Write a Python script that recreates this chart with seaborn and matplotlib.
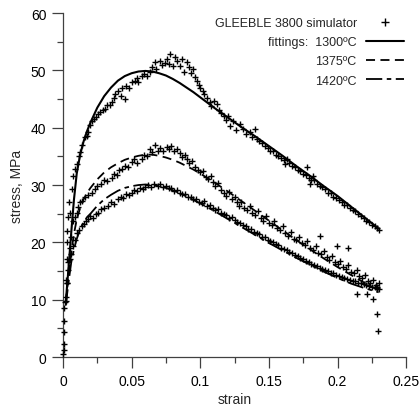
import matplotlib
matplotlib.use('Agg')
import matplotlib.pyplot as plt
import seaborn as sns
import pandas as pd
from matplotlib.lines import Line2D
from matplotlib.ticker import MultipleLocator, FuncFormatter

sns.set_style('ticks')
plt.rcParams['font.family'] = ['Liberation Sans', 'DejaVu Sans']

# ---------------- data ----------------
# GLEEBLE 3800 measured points (strain, stress MPa)
gleeble_1300 = [
    (0.0, 0.5), (0.0005, 1.3), (0.001, 2.3), (0.0005, 4.4), (0.0008, 6.3), (0.0015, 9.6),
    (0.002, 13.5), (0.0027, 17.1), (0.003, 20.0), (0.0027, 22.0), (0.0039, 24.5), (0.0045, 27.0),
    (0.0051, 25.2), (0.0063, 29.3), (0.0075, 31.5), (0.009, 32.8), (0.010, 33.7), (0.0115, 35.0),
    (0.0124, 35.7), (0.014, 37.0), (0.016, 38.3), (0.0175, 38.6), (0.0185, 39.2), (0.020, 40.5),
    (0.021, 41.2), (0.0225, 41.5), (0.024, 41.9), (0.0258, 42.4), (0.027, 42.8), (0.029, 43.0),
    (0.0306, 43.3), (0.032, 43.9), (0.034, 44.0), (0.0355, 44.4), (0.037, 45.1), (0.038, 45.8),
    (0.0403, 46.4), (0.042, 45.6), (0.043, 46.9), (0.045, 45.0), (0.046, 47.3), (0.048, 47.0),
    (0.050, 47.9), (0.0525, 48.2), (0.054, 48.6), (0.055, 48.0), (0.0573, 49.1), (0.059, 49.3),
    (0.061, 49.0), (0.0634, 49.7), (0.065, 50.6), (0.067, 51.4), (0.068, 50.2), (0.0707, 51.7),
    (0.072, 50.9), (0.074, 51.3), (0.0755, 52.0), (0.077, 51.1), (0.078, 52.9), (0.080, 50.7),
    (0.0815, 52.3), (0.083, 51.6), (0.0853, 50.8), (0.087, 51.9), (0.088, 49.8), (0.090, 51.4),
    (0.0915, 50.5), (0.093, 49.6), (0.095, 50.2), (0.0965, 48.9), (0.0975, 48.2), (0.099, 47.5),
    (0.100, 46.9), (0.102, 46.4), (0.103, 45.9), (0.105, 45.2), (0.107, 44.4), (0.108, 43.8),
    (0.110, 44.6), (0.112, 44.1), (0.1135, 43.0), (0.115, 42.6), (0.117, 42.1), (0.119, 41.3),
    (0.120, 42.0), (0.1217, 40.3), (0.124, 41.1), (0.126, 39.6), (0.129, 40.6), (0.131, 39.8),
    (0.133, 38.9), (0.136, 39.2), (0.138, 38.4), (0.140, 39.8), (0.141, 38.0), (0.143, 37.6),
    (0.145, 37.3), (0.147, 36.8), (0.149, 36.5), (0.151, 36.0), (0.153, 35.9), (0.155, 35.2),
    (0.157, 35.1), (0.159, 34.8), (0.161, 34.3), (0.1618, 33.7), (0.163, 34.6), (0.165, 33.8),
    (0.167, 33.4), (0.169, 33.1), (0.171, 32.6), (0.173, 32.5), (0.175, 31.9), (0.1776, 33.1),
    (0.177, 31.7), (0.179, 31.3), (0.180, 30.2), (0.181, 30.9), (0.1824, 31.6), (0.183, 30.8),
    (0.185, 30.2), (0.187, 29.9), (0.189, 29.6), (0.191, 29.3), (0.193, 28.7), (0.195, 28.6),
    (0.197, 28.0), (0.199, 27.8), (0.201, 27.4), (0.203, 27.1), (0.205, 26.6), (0.207, 26.5),
    (0.209, 26.0), (0.211, 25.6), (0.213, 25.4), (0.215, 24.9), (0.217, 24.6), (0.219, 24.3),
    (0.221, 23.8), (0.223, 23.6), (0.225, 23.1), (0.227, 22.9), (0.229, 22.5), (0.230, 22.2),
]

gleeble_1375 = [
    (0.002, 9.8), (0.003, 13.0), (0.004, 16.5), (0.005, 19.0), (0.006, 21.0), (0.0075, 23.8),
    (0.009, 24.5), (0.010, 25.2), (0.011, 26.2), (0.0124, 27.0), (0.014, 27.3), (0.016, 27.9),
    (0.018, 28.2), (0.021, 28.7), (0.023, 29.3), (0.025, 29.8), (0.028, 30.2), (0.030, 30.9),
    (0.032, 30.7), (0.0355, 31.3), (0.037, 32.0), (0.039, 31.8), (0.041, 32.6), (0.0428, 32.8),
    (0.045, 33.3), (0.047, 33.1), (0.050, 34.0), (0.052, 34.6), (0.054, 33.9), (0.0574, 34.5),
    (0.059, 35.3), (0.061, 35.0), (0.0634, 36.3), (0.065, 35.7), (0.067, 36.9), (0.069, 36.0),
    (0.071, 36.4), (0.073, 35.9), (0.0756, 36.6), (0.077, 36.2), (0.079, 36.8), (0.081, 36.0),
    (0.083, 36.3), (0.085, 35.6), (0.087, 34.9), (0.089, 35.3), (0.090, 34.5), (0.092, 33.8),
    (0.094, 34.2), (0.096, 33.2), (0.098, 32.7), (0.100, 32.2), (0.102, 32.5), (0.104, 31.4),
    (0.106, 31.0), (0.108, 31.6), (0.1095, 30.5), (0.111, 29.8), (0.113, 30.3), (0.115, 29.2),
    (0.117, 28.6), (0.119, 28.1), (0.121, 28.8), (0.123, 27.5), (0.125, 27.9), (0.1266, 27.0),
    (0.128, 26.4), (0.130, 27.1), (0.132, 26.0), (0.134, 25.7), (0.136, 26.3), (0.138, 25.2),
    (0.140, 24.8), (0.142, 25.5), (0.144, 24.3), (0.146, 23.8), (0.148, 24.6), (0.150, 23.4),
    (0.152, 23.0), (0.154, 23.7), (0.156, 22.5), (0.158, 22.1), (0.160, 22.8), (0.162, 21.6),
    (0.164, 21.2), (0.166, 21.9), (0.168, 20.6), (0.170, 20.4), (0.172, 21.0), (0.174, 19.9),
    (0.176, 19.5), (0.178, 20.2), (0.180, 19.0), (0.182, 18.7), (0.184, 19.3), (0.186, 18.2),
    (0.187, 21.2), (0.188, 17.9), (0.190, 18.5), (0.192, 17.4), (0.194, 17.0), (0.196, 17.6),
    (0.198, 16.5), (0.1995, 19.4), (0.200, 16.2), (0.202, 16.8), (0.204, 15.7), (0.206, 15.4),
    (0.208, 19.1), (0.208, 16.0), (0.210, 14.9), (0.212, 14.6), (0.214, 15.2), (0.214, 11.0),
    (0.216, 14.1), (0.218, 13.8), (0.220, 14.3), (0.2213, 11.0), (0.222, 13.3), (0.224, 13.0),
    (0.226, 13.5), (0.226, 10.1), (0.228, 12.6), (0.2286, 7.5), (0.229, 12.2), (0.2298, 4.6),
    (0.230, 12.9),
]

gleeble_1420 = [
    (0.001, 8.5), (0.002, 10.5), (0.003, 13.0), (0.004, 15.2), (0.0051, 17.1), (0.006, 18.0),
    (0.0075, 19.4), (0.009, 20.5), (0.010, 21.7), (0.012, 22.2), (0.0136, 22.9), (0.015, 23.2),
    (0.017, 23.8), (0.0185, 24.1), (0.020, 24.6), (0.022, 24.3), (0.024, 25.0), (0.0258, 25.2),
    (0.028, 25.8), (0.030, 26.0), (0.033, 26.4), (0.035, 27.0), (0.037, 26.7), (0.0403, 27.6),
    (0.042, 28.0), (0.044, 27.8), (0.046, 28.4), (0.048, 28.3), (0.050, 28.7), (0.052, 29.1),
    (0.054, 28.9), (0.056, 29.4), (0.058, 29.3), (0.0598, 29.6), (0.062, 30.0), (0.064, 29.7),
    (0.066, 30.2), (0.0695, 29.9), (0.071, 30.1), (0.073, 29.6), (0.075, 29.8), (0.077, 29.4),
    (0.079, 29.5), (0.081, 29.0), (0.083, 29.2), (0.085, 28.6), (0.087, 28.4), (0.089, 28.5),
    (0.091, 27.9), (0.093, 28.0), (0.095, 27.5), (0.097, 27.6), (0.099, 27.1), (0.101, 26.9),
    (0.103, 27.2), (0.105, 26.4), (0.107, 26.6), (0.109, 26.0), (0.111, 25.7), (0.113, 25.9),
    (0.115, 25.2), (0.117, 25.0), (0.119, 24.8), (0.121, 24.3), (0.123, 24.5), (0.125, 23.9),
    (0.127, 23.6), (0.129, 23.4), (0.131, 23.0), (0.133, 22.9), (0.135, 22.4), (0.137, 22.3),
    (0.139, 21.9), (0.141, 21.7), (0.143, 21.4), (0.145, 21.0), (0.147, 20.9), (0.149, 20.5),
    (0.151, 20.3), (0.153, 20.0), (0.155, 19.7), (0.157, 19.5), (0.159, 19.1), (0.161, 18.9),
    (0.163, 18.7), (0.165, 18.3), (0.167, 18.2), (0.169, 17.8), (0.171, 17.6), (0.173, 17.3),
    (0.175, 17.1), (0.177, 16.8), (0.179, 16.6), (0.181, 16.3), (0.183, 16.1), (0.185, 15.8),
    (0.187, 15.6), (0.189, 15.4), (0.191, 15.1), (0.193, 15.0), (0.195, 14.7), (0.197, 14.6),
    (0.199, 14.3), (0.201, 14.2), (0.203, 14.0), (0.205, 13.8), (0.207, 13.7), (0.209, 13.5),
    (0.211, 13.3), (0.213, 13.2), (0.215, 13.0), (0.217, 12.9), (0.219, 12.7), (0.221, 12.6),
    (0.223, 12.4), (0.225, 12.3), (0.227, 12.2), (0.229, 12.0), (0.230, 11.8),
]

# Fitted curves (strain, stress MPa)
fit_strain = [0.002, 0.004, 0.006, 0.008, 0.010, 0.0125, 0.015, 0.0175, 0.020, 0.025,
              0.030, 0.035, 0.040, 0.045, 0.050, 0.055, 0.060, 0.065, 0.070, 0.075,
              0.080, 0.085, 0.090, 0.095, 0.100, 0.110, 0.120, 0.130, 0.140, 0.150,
              0.160, 0.170, 0.180, 0.190, 0.200, 0.210, 0.220, 0.230]
fit_1300 = [9.5, 15.5, 21.7, 27.5, 32.0, 35.3, 37.6, 39.4, 40.9, 43.5,
            45.5, 47.0, 48.2, 49.0, 49.5, 49.8, 49.9, 49.8, 49.5, 49.1,
            48.5, 47.8, 47.0, 46.2, 45.3, 43.5, 41.8, 40.1, 38.5, 36.8,
            35.1, 33.3, 31.6, 29.8, 28.1, 26.2, 24.3, 22.4]
fit_1375 = [9.5, 14.5, 18.3, 21.5, 24.0, 26.0, 27.5, 28.6, 29.5, 31.0,
            32.2, 33.1, 33.8, 34.4, 34.8, 35.1, 35.3, 35.3, 35.1, 34.8,
            34.4, 33.9, 33.3, 32.7, 32.0, 30.5, 28.9, 27.2, 25.5, 23.8,
            22.1, 20.4, 18.8, 17.2, 15.7, 14.3, 12.9, 11.6]
fit_1420 = [9.0, 13.0, 16.5, 18.8, 20.6, 22.3, 23.5, 24.4, 25.0, 26.4,
            27.5, 28.3, 29.0, 29.5, 29.8, 30.0, 30.1, 30.0, 29.8, 29.5,
            29.1, 28.6, 28.0, 27.4, 26.8, 25.5, 24.1, 22.7, 21.3, 19.9,
            18.6, 17.3, 16.1, 14.9, 13.8, 12.8, 12.0, 11.3]

legend_labels = ["GLEEBLE 3800 simulator", "fittings:  1300\u00baC", "1375\u00baC", "1420\u00baC"]

# ---------------- figure ----------------
fig = plt.figure(figsize=(4.2, 4.06), dpi=100)
ax = fig.add_axes([0.15, 0.118, 0.817, 0.8475])

pts = pd.DataFrame(gleeble_1300 + gleeble_1375 + gleeble_1420, columns=["strain", "stress"])
sns.scatterplot(data=pts, x="strain", y="stress", marker='+', color='black',
                s=13, linewidth=1.0, ax=ax, legend=False, zorder=3, clip_on=False)

fits = pd.DataFrame({"strain": fit_strain, "f1300": fit_1300, "f1375": fit_1375, "f1420": fit_1420})
sns.lineplot(data=fits, x="strain", y="f1300", color='black', lw=1.5, ax=ax, zorder=4)
sns.lineplot(data=fits, x="strain", y="f1375", color='black', lw=1.3, ax=ax, zorder=4,
             linestyle=(0, (5, 3)))
sns.lineplot(data=fits, x="strain", y="f1420", color='black', lw=1.3, ax=ax, zorder=4,
             linestyle=(0, (9, 2.5, 2.5, 2.5)))

ax.set_xlim(0, 0.25)
ax.set_ylim(0, 60)
ax.xaxis.set_major_locator(MultipleLocator(0.05))
ax.xaxis.set_minor_locator(MultipleLocator(0.025))
ax.yaxis.set_major_locator(MultipleLocator(10))
ax.yaxis.set_minor_locator(MultipleLocator(5))
ax.xaxis.set_major_formatter(FuncFormatter(lambda v, p: f"{v:g}"))
ax.yaxis.set_major_formatter(FuncFormatter(lambda v, p: f"{v:g}"))

axcol = '#404040'
sns.despine(ax=ax)
for s in ("left", "bottom"):
    ax.spines[s].set_color(axcol)
    ax.spines[s].set_linewidth(0.9)
ax.tick_params(which='major', direction='out', length=8, width=0.9, color=axcol,
               labelsize=10, labelcolor='black', pad=4)
ax.tick_params(which='minor', direction='out', length=4.5, width=0.9, color=axcol)

ax.set_xlabel("strain", fontsize=10, labelpad=3)
ax.set_ylabel("stress, MPa", fontsize=10, labelpad=5)

handles = [
    Line2D([], [], color='black', marker='+', ls='none', markersize=6, markeredgewidth=1.0),
    Line2D([], [], color='black', lw=1.5),
    Line2D([], [], color='black', lw=1.3, linestyle=(0, (5, 3))),
    Line2D([], [], color='black', lw=1.3, linestyle=(0, (9, 2.5, 2.5, 2.5))),
]
leg = ax.legend(handles, legend_labels, loc='upper right', bbox_to_anchor=(1.0, 0.995),
                frameon=False, markerfirst=False, alignment='right', fontsize=9.0,
                handlelength=3.0, handletextpad=0.75, labelspacing=0.57, borderaxespad=0,
                borderpad=0.2)

fig.savefig("out.png", dpi=100)
